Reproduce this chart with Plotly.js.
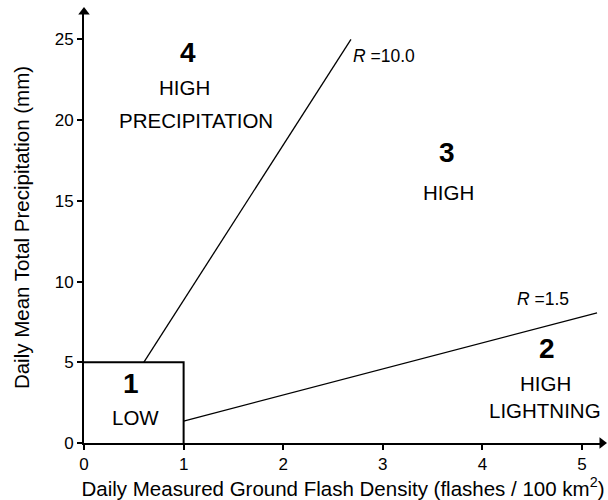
<!DOCTYPE html>
<html><head><meta charset="utf-8">
<script src="https://cdn.plot.ly/plotly-3.0.1.min.js"></script>
<style>html,body{margin:0;padding:0;background:#fff}</style>
</head><body><div id="chart" style="width:608px;height:500px"></div>
<script>
const boxX = [0, 1, 1];
const boxY = [5, 5, 0];
const r10X = [0.6, 2.68];
const r10Y = [5, 25];
const r15X = [1, 5.15];
const r15Y = [1.36, 8.06];
const xTicks = [0, 1, 2, 3, 4, 5];
const yTicks = [0, 5, 10, 15, 20, 25];
const regionNums = ['4', '3', '2', '1'];
const regionNumX = [1.044, 3.645, 4.649, 0.472];
const regionNumY = [24.2, 18.0, 5.85, 3.68];
const regionTexts = ['HIGH', 'PRECIPITATION', 'HIGH', 'HIGH', 'LIGHTNING', 'LOW'];
const regionTextX = [1.004, 1.124, 3.655, 4.629, 4.629, 0.52];
const regionTextY = [22.0, 20.0, 15.5, 3.7, 2.03, 1.6];
const rLabels = ['<i>R</i> =10.0', '<i>R</i> =1.5'];
const rLabelX = [3.012, 4.61];
const rLabelY = [23.95, 8.95];
const arrowX = [5.2, 0];
const arrowY = [0, 26.7];
const arrowSym = ['triangle-right', 'triangle-up'];

const font = 'Liberation Sans, Arial, sans-serif';
const traces = [
  {x: boxX, y: boxY, mode: 'lines', line: {color: '#000', width: 2}, hoverinfo: 'skip'},
  {x: r10X, y: r10Y, mode: 'lines', line: {color: '#000', width: 1.3}, hoverinfo: 'skip'},
  {x: r15X, y: r15Y, mode: 'lines', line: {color: '#000', width: 1.3}, hoverinfo: 'skip'},
  {x: arrowX, y: arrowY, mode: 'markers', cliponaxis: false, marker: {symbol: arrowSym, size: 10, color: '#000'}, hoverinfo: 'skip'}
];
const ann = [];
regionNums.forEach((t, i) => ann.push({x: regionNumX[i], y: regionNumY[i], text: '<b>' + t + '</b>', showarrow: false, font: {family: font, size: 28, color: '#000'}}));
regionTexts.forEach((t, i) => ann.push({x: regionTextX[i], y: regionTextY[i], text: t, showarrow: false, font: {family: font, size: 20.5, color: '#000'}}));
rLabels.forEach((t, i) => ann.push({x: rLabelX[i], y: rLabelY[i], text: t, showarrow: false, font: {family: font, size: 17.5, color: '#000'}}));

const layout = {
  width: 608, height: 500,
  margin: {l: 84, r: 6, t: 12, b: 57},
  showlegend: false,
  paper_bgcolor: '#fff', plot_bgcolor: '#fff',
  font: {family: font, color: '#000', size: 17},
  xaxis: {
    range: [0, 5.2], tickvals: xTicks, ticktext: xTicks.map(String),
    showgrid: false, zeroline: false, showline: true, linecolor: '#000', linewidth: 2,
    ticks: 'outside', ticklen: 5, tickwidth: 2, tickcolor: '#000',
    tickfont: {family: font, size: 17},
    title: {text: 'Daily Measured Ground Flash Density (flashes / 100 km<sup>2</sup>)', font: {family: font, size: 20.5}, standoff: 0}
  },
  yaxis: {
    range: [0, 26.7], tickvals: yTicks, ticktext: yTicks.map(String),
    showgrid: false, zeroline: false, showline: true, linecolor: '#000', linewidth: 2,
    ticks: 'outside', ticklen: 5, tickwidth: 2, tickcolor: '#000',
    tickfont: {family: font, size: 17},
    title: {text: 'Daily Mean Total Precipitation (mm)', font: {family: font, size: 20.5}, standoff: 20}
  },
  annotations: ann
};
Plotly.newPlot('chart', traces, layout, {displayModeBar: false, staticPlot: true});
</script></body></html>
